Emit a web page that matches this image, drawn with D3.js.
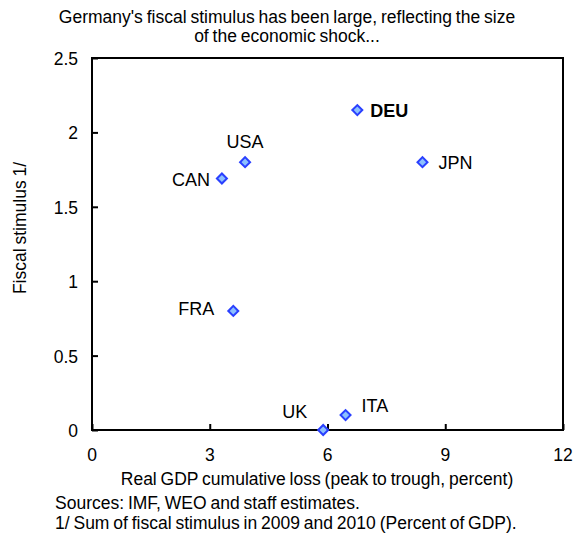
<!DOCTYPE html>
<html>
<head>
<meta charset="utf-8">
<script src="https://cdn.jsdelivr.net/npm/d3@7"></script>
<style>
body { margin:0; background:#fff; }
text { font-family: "Liberation Sans", Arial, sans-serif; fill:#000; }
</style>
</head>
<body>
<svg width="574" height="537"></svg>
<script>
// data
var countries = ['DEU', 'USA', 'JPN', 'CAN', 'FRA', 'UK', 'ITA'];
var gdpLoss   = [6.76, 3.9, 8.42, 3.31, 3.6, 5.89, 6.46];
var stimulus  = [2.15, 1.8, 1.8, 1.69, 0.8, 0.0, 0.1];
var xTicks = [0, 3, 6, 9, 12];
var yTicks = [0, 0.5, 1, 1.5, 2, 2.5];

// label placement (pixels from the point)
var labelPos = {
    DEU: {dx: 13, dy: 7, anchor: 'start', bold: true},
    USA: {dx: 0, dy: -14, anchor: 'middle'},
    JPN: {dx: 16, dy: 7, anchor: 'start'},
    CAN: {dx: -12, dy: 7, anchor: 'end'},
    FRA: {dx: -19, dy: 4, anchor: 'end'},
    UK:  {dx: -16, dy: -12, anchor: 'end'},
    ITA: {dx: 16, dy: -3, anchor: 'start'}
};

var svg = d3.select('svg');
var plotL = 92, plotR = 563, plotT = 58, plotB = 430;

var scaleX = d3.scaleLinear().domain([0, 12]).range([plotL, plotR]);
var scaleY = d3.scaleLinear().domain([0, 2.5]).range([plotB, plotT]);

function smallText(x, y, str) {
    return svg.append('text').attr('x', x).attr('y', y)
        .attr('font-size', 17.5).attr('letter-spacing', 0).attr('word-spacing', -1)
        .text(str);
}

// title
smallText(287, 23, "Germany's fiscal stimulus has been large, reflecting the size").attr('text-anchor', 'middle');
smallText(287, 42, 'of the economic shock...').attr('text-anchor', 'middle');

// frame
svg.append('rect')
    .attr('x', plotL).attr('y', plotT)
    .attr('width', plotR - plotL).attr('height', plotB - plotT)
    .attr('fill', 'none').attr('stroke', '#000').attr('stroke-width', 2);

// axes with inward ticks
var yAxis = svg.append('g')
    .attr('transform', 'translate(' + plotL + ',0)')
    .call(d3.axisRight(scaleY).tickValues(yTicks).tickSize(6).tickFormat(''));
yAxis.select('.domain').remove();
yAxis.selectAll('line').attr('stroke-width', 2);

var xAxis = svg.append('g')
    .attr('transform', 'translate(0,' + plotB + ')')
    .call(d3.axisTop(scaleX).tickValues(xTicks).tickSize(6).tickFormat(''));
xAxis.select('.domain').remove();
xAxis.selectAll('line').attr('stroke-width', 2);

// tick labels
svg.selectAll('.ylab').data(yTicks).enter().append('text')
    .attr('x', 78).attr('y', function(d) { return scaleY(d) + 7; })
    .attr('text-anchor', 'end').attr('font-size', 17.5)
    .text(function(d) { return d; });
svg.selectAll('.xlab').data(xTicks).enter().append('text')
    .attr('x', function(d) { return scaleX(d); }).attr('y', 461)
    .attr('text-anchor', 'middle').attr('font-size', 17.5)
    .text(function(d) { return d; });

// axis titles
smallText(0, 0, 'Fiscal stimulus 1/')
    .attr('transform', 'translate(26,228) rotate(-90)')
    .attr('text-anchor', 'middle');
smallText(317, 485, 'Real GDP cumulative loss (peak to trough, percent)').attr('text-anchor', 'middle');

// notes
smallText(55, 509, 'Sources: IMF, WEO and staff estimates.');
smallText(55, 529, '1/  Sum of fiscal stimulus in 2009 and 2010 (Percent of GDP).');

// points
var pts = countries.map(function(c, i) { return {name: c, x: gdpLoss[i], y: stimulus[i]}; });
var sym = d3.symbol().type(d3.symbolSquare).size(50);

svg.selectAll('.pt').data(pts).enter().append('path')
    .attr('d', sym)
    .attr('transform', function(d) { return 'translate(' + scaleX(d.x) + ',' + scaleY(d.y) + ') rotate(45)'; })
    .attr('fill', '#8cc0ff').attr('stroke', '#2a40ff').attr('stroke-width', 2);

svg.selectAll('.lab').data(pts).enter().append('text')
    .attr('x', function(d) { return scaleX(d.x) + labelPos[d.name].dx; })
    .attr('y', function(d) { return scaleY(d.y) + labelPos[d.name].dy; })
    .attr('text-anchor', function(d) { return labelPos[d.name].anchor; })
    .attr('font-size', 18)
    .attr('font-weight', function(d) { return labelPos[d.name].bold ? 'bold' : 'normal'; })
    .text(function(d) { return d.name; });
</script>
</body>
</html>
